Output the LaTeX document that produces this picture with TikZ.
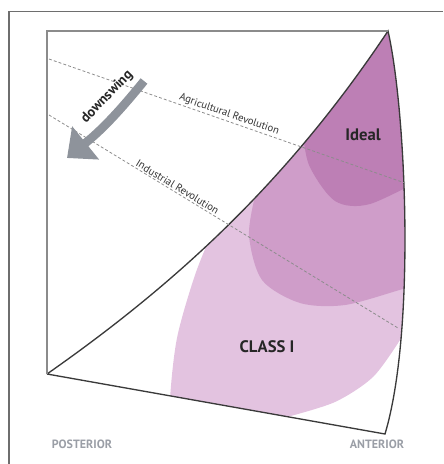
\documentclass[tikz,border=0pt]{standalone}
\usepackage{fontspec}
\setmainfont{PT Sans}
\usetikzlibrary{arrows.meta}
\definecolor{region1}{HTML}{E3C3E0}
\definecolor{region2}{HTML}{CF9DC9}
\definecolor{region3}{HTML}{BD7FB5}
\definecolor{frame}{HTML}{6E6E6E}
\definecolor{edge}{HTML}{3A3A3A}
\definecolor{guide}{HTML}{8C8C8C}
\definecolor{swing}{HTML}{8E939B}
\definecolor{axis}{HTML}{9A9EA6}
\tikzset{>=latex}
\tikzset{
	era/.style = {draw = guide, line width = 0.6pt, dash pattern = on 2.2pt off 1.6pt},
	eralabel/.style = {sloped, above, text = black!80, inner sep = 1pt,
		font = \fontsize{8}{9}\selectfont},
	zone/.style = {text = black!85, font = \bfseries\fontsize{12.5}{14}\selectfont},
	axislabel/.style = {text = axis, font = \bfseries\fontsize{9}{10}\selectfont},
}

\begin{document}
\begin{tikzpicture}[x = 0.75pt, y = -0.75pt]
\useasboundingbox (0,0) rectangle (443,464);
\draw[frame, line width = 1.1pt] (9,464) -- (9,11.5) -- (443,11.5);

\coordinate (tl) at (47,31);
\coordinate (tr) at (388,31);
\coordinate (bl) at (47,374);
\coordinate (br) at (385,434);

\begin{scope}
\clip (bl) .. controls (177,283) and (288,181) .. (tr)
	.. controls (406,110) and (416,330) .. (br) -- cycle;

\fill[region1] plot[smooth] coordinates {(214,228) (195,275) (177,338) (170,400) (171,450)}
	-- (285,440) -- plot[smooth] coordinates {(287,417) (335,402) (373,377) (400,340)}
	-- (430,320) -- (430,0) -- (240,0) -- cycle;

\fill[region2] plot[smooth] coordinates {(256,192) (249,235) (262,280) (300,303) (345,305) (403,289) (430,282)}
	-- (430,0) -- (240,0) -- cycle;

\fill[region3] plot[smooth] coordinates {(302,125) (309,165) (335,201) (370,204) (430,175)}
	-- (430,0) -- (290,0) -- cycle;
\end{scope}

\draw[edge, line width = 1pt] (bl) .. controls (177,283) and (288,181) .. (tr)
	.. controls (406,110) and (416,330) .. (br) -- (bl);
\draw[frame!80, line width = 1pt] (bl) -- (tl) -- (tr);

% revolutions
\coordinate (agri w) at (49,59);
\coordinate (agri e) at (405,183);
\coordinate (ind w) at (49,115);
\coordinate (ind e) at (398,328);
\draw[era] (agri w) -- node[eralabel, pos = 0.5] (agri) {Agricultural Revolution} (agri e);
\draw[era] (ind w) -- node[eralabel, pos = 0.36] (ind) {Industrial Revolution} (ind e);

% downswing
\coordinate (swing top) at (144,81);
\coordinate (swing tip) at (67,158);
\draw[swing, line width = 6.5pt, -{Triangle[width = 31pt, length = 18pt]}]
	(swing top) to[bend left = 6] (swing tip);
\node[rotate = 46, inner sep = 1pt, text = black!85, font = \bfseries\fontsize{10.5}{12}\selectfont] (swing label) at (107,97) {downswing};

\node[zone] (ideal) at (363,135) {Ideal};
\node[zone] (class) at (267,347) {CLASS I};

\node[axislabel] (post) at (82,444) {POSTERIOR};
\node[axislabel] (ant) at (377,444) {ANTERIOR};

\end{tikzpicture}
\end{document}
